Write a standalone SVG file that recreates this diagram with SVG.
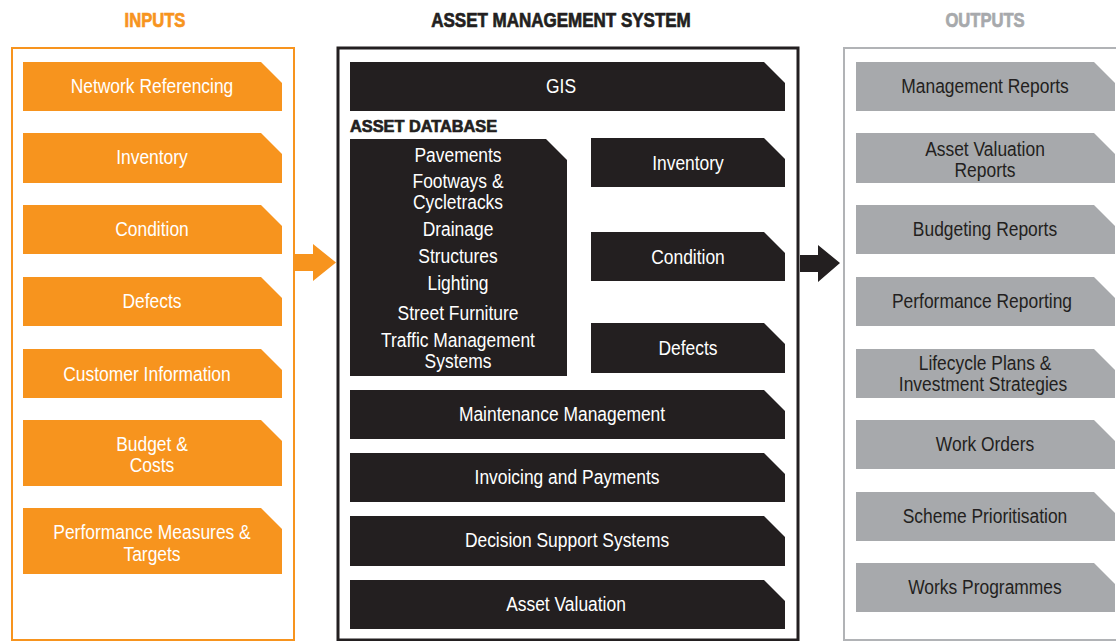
<svg xmlns="http://www.w3.org/2000/svg" width="1116" height="641" viewBox="0 0 1116 641">
<style>
.t{font-family:"Liberation Sans",Arial,sans-serif;font-size:21px;text-anchor:middle}
.w{fill:#ffffff}
.d{fill:#231f20}
.h{font-family:"Liberation Sans",Arial,sans-serif;font-weight:bold;font-size:20px;text-anchor:middle;stroke-width:0.7;paint-order:stroke}
.or{fill:#f7941e}
.bk{fill:#231f20}
.gr{fill:#a7a9ac}
</style>
<rect width="1116" height="641" fill="#ffffff"/>
<!-- headers -->
<text class="h" fill="#f7941e" stroke="#f7941e" transform="translate(155,27) scale(0.83,1)">INPUTS</text>
<text class="h" fill="#231f20" stroke="#231f20" transform="translate(561,27) scale(0.85,1)">ASSET MANAGEMENT SYSTEM</text>
<text class="h" fill="#a7a9ac" stroke="#a7a9ac" transform="translate(985,27) scale(0.83,1)">OUTPUTS</text>
<!-- panels -->
<rect x="12" y="48" width="282" height="592" fill="none" stroke="#f7941e" stroke-width="2"/>
<rect x="338" y="48" width="460" height="592" fill="none" stroke="#231f20" stroke-width="3"/>
<rect x="844" y="48" width="290" height="592" fill="none" stroke="#b1b3b6" stroke-width="2"/>
<!-- connectors -->
<g id="connectors">
<path class="or" d="M294,254 H313 V244 L336,262.5 L313,281 V271 H294 Z"/>
<path class="bk" d="M800,255 H818 V245 L840,263 L818,282 V272 H800 Z"/>
</g>
<!-- inputs -->
<g id="in-network"><path class="or" d="M23,62 H261 L282,83 V111 H23 Z"/><text class="t w" transform="translate(152,93) scale(0.83,1)">Network Referencing</text></g>
<g id="in-inventory"><path class="or" d="M23,133 H261 L282,154 V183 H23 Z"/><text class="t w" transform="translate(152,164) scale(0.83,1)">Inventory</text></g>
<g id="in-condition"><path class="or" d="M23,205 H261 L282,226 V254 H23 Z"/><text class="t w" transform="translate(152,236) scale(0.83,1)">Condition</text></g>
<g id="in-defects"><path class="or" d="M23,277 H261 L282,298 V326 H23 Z"/><text class="t w" transform="translate(152,308) scale(0.83,1)">Defects</text></g>
<g id="in-customer"><path class="or" d="M23,349 H261 L282,370 V398 H23 Z"/><text class="t w" transform="translate(147,381) scale(0.83,1)">Customer Information</text></g>
<g id="in-budget"><path class="or" d="M23,420 H261 L282,441 V486 H23 Z"/><text class="t w" transform="translate(152,451) scale(0.83,1)">Budget &amp;</text><text class="t w" transform="translate(152,472) scale(0.83,1)">Costs</text></g>
<g id="in-performance"><path class="or" d="M23,508 H261 L282,529 V574 H23 Z"/><text class="t w" transform="translate(152,539) scale(0.83,1)">Performance Measures &amp;</text><text class="t w" transform="translate(152,561) scale(0.83,1)">Targets</text></g>
<!-- middle -->
<g id="gis"><path class="bk" d="M350,62 H764 L785,83 V111 H350 Z"/><text class="t w" transform="translate(561,93) scale(0.83,1)">GIS</text></g>
<text x="0" y="0" font-family="Liberation Sans,Arial,sans-serif" font-weight="bold" font-size="17" fill="#231f20" stroke="#231f20" stroke-width="0.7" transform="translate(350,132) scale(0.96,1)">ASSET DATABASE</text>
<g id="asset-database"><path class="bk" d="M350,139 H546 L567,160 V376 H350 Z"/>
<text class="t w" transform="translate(458,162) scale(0.83,1)">Pavements</text>
<text class="t w" transform="translate(458,188) scale(0.83,1)">Footways &amp;</text>
<text class="t w" transform="translate(458,209) scale(0.83,1)">Cycletracks</text>
<text class="t w" transform="translate(458,236) scale(0.83,1)">Drainage</text>
<text class="t w" transform="translate(458,263) scale(0.83,1)">Structures</text>
<text class="t w" transform="translate(458,290) scale(0.83,1)">Lighting</text>
<text class="t w" transform="translate(458,320) scale(0.83,1)">Street Furniture</text>
<text class="t w" transform="translate(458,347) scale(0.83,1)">Traffic Management</text>
<text class="t w" transform="translate(458,368) scale(0.83,1)">Systems</text>
</g>
<g id="db-inventory"><path class="bk" d="M591,138 H764 L785,159 V187 H591 Z"/><text class="t w" transform="translate(688,170) scale(0.83,1)">Inventory</text></g>
<g id="db-condition"><path class="bk" d="M591,232 H764 L785,253 V281 H591 Z"/><text class="t w" transform="translate(688,264) scale(0.83,1)">Condition</text></g>
<g id="db-defects"><path class="bk" d="M591,323 H764 L785,344 V373 H591 Z"/><text class="t w" transform="translate(688,355) scale(0.83,1)">Defects</text></g>
<g id="maintenance"><path class="bk" d="M350,390 H764 L785,411 V439 H350 Z"/><text class="t w" transform="translate(562,421) scale(0.83,1)">Maintenance Management</text></g>
<g id="invoicing"><path class="bk" d="M350,453 H764 L785,474 V502 H350 Z"/><text class="t w" transform="translate(567,484) scale(0.83,1)">Invoicing and Payments</text></g>
<g id="decision"><path class="bk" d="M350,516 H764 L785,537 V566 H350 Z"/><text class="t w" transform="translate(567,547) scale(0.83,1)">Decision Support Systems</text></g>
<g id="valuation"><path class="bk" d="M350,580 H764 L785,601 V629 H350 Z"/><text class="t w" transform="translate(566,611) scale(0.83,1)">Asset Valuation</text></g>
<!-- outputs -->
<g id="out-management"><path class="gr" d="M856,62 H1094 L1115,83 V111 H856 Z"/><text class="t d" transform="translate(985,93) scale(0.83,1)">Management Reports</text></g>
<g id="out-valuation"><path class="gr" d="M856,133 H1094 L1115,154 V183 H856 Z"/><text class="t d" transform="translate(985,156) scale(0.83,1)">Asset Valuation</text><text class="t d" transform="translate(985,177) scale(0.83,1)">Reports</text></g>
<g id="out-budgeting"><path class="gr" d="M856,205 H1094 L1115,226 V254 H856 Z"/><text class="t d" transform="translate(985,236) scale(0.83,1)">Budgeting Reports</text></g>
<g id="out-performance"><path class="gr" d="M856,277 H1094 L1115,298 V326 H856 Z"/><text class="t d" transform="translate(982,308) scale(0.83,1)">Performance Reporting</text></g>
<g id="out-lifecycle"><path class="gr" d="M856,349 H1094 L1115,370 V398 H856 Z"/><text class="t d" transform="translate(985,370) scale(0.83,1)">Lifecycle Plans &amp;</text><text class="t d" transform="translate(983,391) scale(0.83,1)">Investment Strategies</text></g>
<g id="out-workorders"><path class="gr" d="M856,420 H1094 L1115,441 V469 H856 Z"/><text class="t d" transform="translate(985,451) scale(0.83,1)">Work Orders</text></g>
<g id="out-scheme"><path class="gr" d="M856,492 H1094 L1115,513 V541 H856 Z"/><text class="t d" transform="translate(985,523) scale(0.83,1)">Scheme Prioritisation</text></g>
<g id="out-works"><path class="gr" d="M856,563 H1094 L1115,584 V612 H856 Z"/><text class="t d" transform="translate(985,594) scale(0.83,1)">Works Programmes</text></g>
</svg>
